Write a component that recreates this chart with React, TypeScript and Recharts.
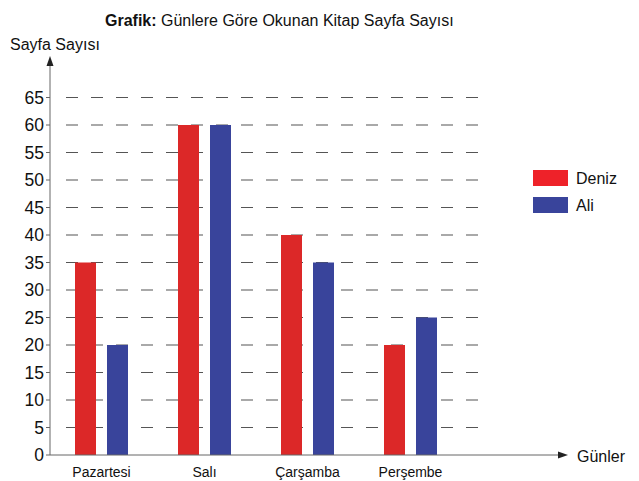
import { BarChart, Bar, XAxis, YAxis, CartesianGrid } from "recharts";

const days = ["Pazartesi", "Salı", "Çarşamba", "Perşembe"];
const deniz = [35, 60, 40, 20];
const ali = [20, 60, 35, 25];
const yTicks = [0, 5, 10, 15, 20, 25, 30, 35, 40, 45, 50, 55, 60, 65];
const yMax = 72;

const RED = "#DC2828";
const BLUE = "#39449B";
const FONT = "'Liberation Sans', Arial, Helvetica, sans-serif";

const data = days.map((d, i) => ({ day: d, Deniz: deniz[i], Ali: ali[i] }));

// only the dashed lines above zero, none at the top edge
const gridLines = ({ offset }: any) =>
  yTicks
    .filter((v) => v > 0)
    .map((v) => offset.top + offset.height * (1 - v / yMax));

export default function App() {
  return (
    <div style={{ position: "absolute", left: 0, top: 0, width: 639, height: 481, background: "#fff", fontFamily: FONT }}>
      <BarChart
        width={639}
        height={481}
        data={data}
        margin={{ top: 59, right: 74, bottom: 0, left: 10 }}
        barSize={21}
        barGap={11}
      >
        <CartesianGrid
          vertical={false}
          x={66}
          width={412}
          stroke="#555"
          strokeWidth={1.2}
          strokeDasharray="12 13"
          horizontalCoordinatesGenerator={gridLines}
        />
        <XAxis
          dataKey="day"
          height={26}
          padding={{ left: 0, right: 103 }}
          tickLine={false}
          tickMargin={6}
          stroke="#666"
          tick={{ fill: "#111", fontSize: 14, fontFamily: FONT }}
        />
        <YAxis
          width={40}
          domain={[0, yMax]}
          ticks={yTicks}
          interval={0}
          tickSize={4}
          tickMargin={2}
          stroke="#666"
          tick={{ fill: "#111", fontSize: 17.5, fontFamily: FONT }}
        />
        <Bar dataKey="Deniz" fill={RED} isAnimationActive={false} />
        <Bar dataKey="Ali" fill={BLUE} isAnimationActive={false} />
      </BarChart>

      <svg width={639} height={481} style={{ position: "absolute", left: 0, top: 0, pointerEvents: "none" }}>
        <polygon points="50,56 46.5,66 53.5,66" fill="#222" />
        <polygon points="568,455 558,451.5 558,458.5" fill="#222" />
        <text x={105} y={26} fontSize={16} fill="#111" fontFamily={FONT}>
          <tspan fontWeight="bold">Grafik:</tspan> Günlere Göre Okunan Kitap Sayfa Sayısı
        </text>
        <text x={10} y={50} fontSize={16} fill="#111" fontFamily={FONT}>Sayfa Sayısı</text>
        <text x={577} y={462} fontSize={16} fill="#111" fontFamily={FONT}>Günler</text>
        <rect x={533} y={170} width={35} height={16} fill="#EE2229" />
        <text x={576} y={184} fontSize={16} fill="#111" fontFamily={FONT}>Deniz</text>
        <rect x={533} y={197} width={35} height={16} fill={BLUE} />
        <text x={576} y={211} fontSize={16} fill="#111" fontFamily={FONT}>Ali</text>
      </svg>
    </div>
  );
}
